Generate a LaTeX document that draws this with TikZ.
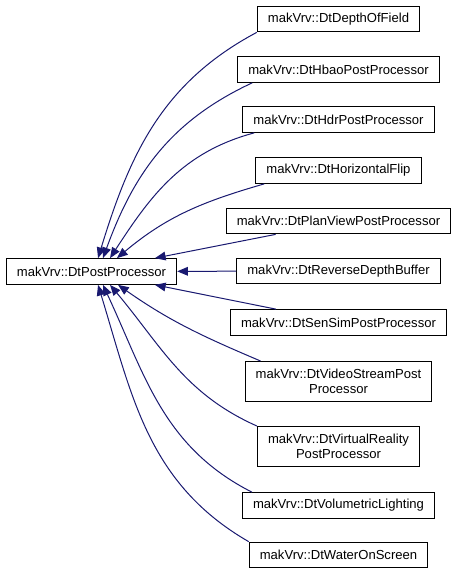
\documentclass[tikz,border=0pt]{standalone}
\usepackage[svgnames]{xcolor}
\usepackage{fontspec}
\setsansfont{Liberation Sans}
\usetikzlibrary{arrows.meta}

\begin{document}
\begin{tikzpicture}
    [font=\sffamily\fontsize{9.8pt}{11.25pt}\selectfont, x=.75pt, y=.75pt,
     >={Triangle[length=8pt, width=6.5pt]},
     classbox/.style={draw=black, fill=white, line width=.75pt,
                      inner xsep=8pt, inner ysep=2pt, align=center},
     inherit/.style={->, draw=MidnightBlue, line width=.75pt},
    ]
    \useasboundingbox (0, 0) rectangle (457, -575);

    % Base class
    \node[classbox, minimum height=19.3pt] (base) at (91.5, -271.5)
        {makVrv::DtPostProcessor};

    % Derived classes
    \foreach \cn / \txt / \cy / \ch in
             {depth/DtDepthOfField/19/19.3,
              hbao/DtHbaoPostProcessor/69.5/19.3,
              hdr/DtHdrPostProcessor/119.5/19.3,
              hflip/DtHorizontalFlip/170.5/19.3,
              planview/DtPlanViewPostProcessor/221/19.3,
              reverse/DtReverseDepthBuffer/271/19.3,
              sensim/DtSenSimPostProcessor/322.5/19.3,
              video/{DtVideoStreamPost\\Processor}/381.5/30,
              virtual/{DtVirtualReality\\PostProcessor}/446.5/30,
              volumetric/DtVolumetricLighting/505.5/19.3,
              water/DtWaterOnScreen/555/19.3} {
        \node[classbox, minimum height=\ch pt] (\cn) at (338.5, -\cy)
            {makVrv::\txt};
    }

    % Inheritance edges, upper half
    \foreach \cn / \sx / \ex / \ao / \ai in
             {depth/0/4.9/208/73, hbao/11.25/8.6/205/70,
              hdr/9/13.9/195/57, hflip/6.75/19.1/196/40} {
        \draw[inherit] ([xshift=\sx pt]\cn.south west)
            to[out=\ao, in=\ai] ([xshift=\ex pt]base.north);
    }
    % Inheritance edges, lower half
    \foreach \cn / \sx / \ex / \ao / \ai in
             {video/12/19.9/157/-35, virtual/0/13.9/156/-50,
              volumetric/7.5/8.6/153/-65, water/0/4.9/150/-73} {
        \draw[inherit] ([xshift=\sx pt]\cn.north west)
            to[out=\ao, in=\ai] ([xshift=\ex pt]base.south);
    }
    % Straight ones
    \draw[inherit] ([xshift=37.5pt]planview.south west)
        -- ([xshift=47.6pt]base.north);
    \draw[inherit] (reverse) -- (base);
    \draw[inherit] ([xshift=34.5pt]sensim.north west)
        -- ([xshift=47.6pt]base.south);
\end{tikzpicture}
\end{document}
